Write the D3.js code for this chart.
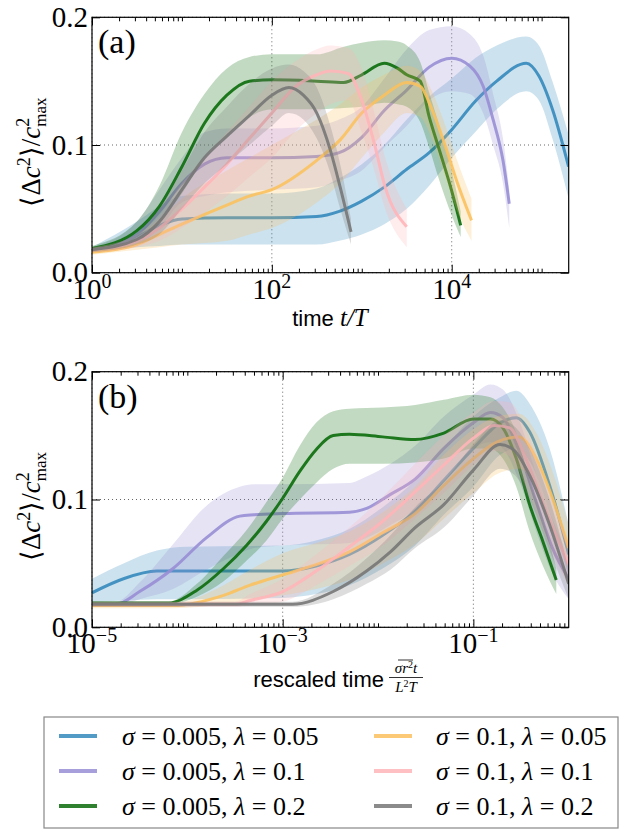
<!DOCTYPE html>
<html><head><meta charset="utf-8">
<script src="https://cdn.jsdelivr.net/npm/d3@7"></script>
<style>body{margin:0;background:#fff} svg{display:block}</style>
</head><body>
<svg id="chart" width="625" height="830"></svg>
<script>
// ---------- series metadata ----------
const sigmaVals = ["0.005","0.005","0.005","0.1","0.1","0.1"];
const lambdaVals = ["0.05","0.1","0.2","0.05","0.1","0.2"];
const colors = ["#348ABD","#988ED5","#0b6b0b","#FBC15E","#FFB5B8","#777777"];

// ---------- panel (a): time t/T ----------
const aT_blue  = [1,3.16,5.62,10,31.6,100,316,562,1000,1778,3162,5623,10000,18197,31623,67608,93325,131826,199526];
const aM_blue  = [0.018,0.028,0.037,0.042,0.043,0.043,0.044,0.048,0.056,0.067,0.081,0.094,0.112,0.134,0.150,0.164,0.154,0.128,0.083];
const aLo_blue = [0.016,0.020,0.021,0.022,0.022,0.022,0.022,0.025,0.030,0.038,0.050,0.068,0.090,0.110,0.128,0.142,0.135,0.105,0.058];
const aHi_blue = [0.020,0.040,0.052,0.060,0.062,0.062,0.066,0.074,0.085,0.100,0.120,0.138,0.152,0.168,0.178,0.185,0.178,0.150,0.108];

const aT_purple  = [1,3.16,5.62,10,17.8,31.6,100,316,562,1000,1778,3162,5623,10000,15849,22387,28840,37154,43652];
const aM_purple  = [0.018,0.030,0.048,0.070,0.085,0.090,0.090,0.091,0.094,0.106,0.127,0.143,0.161,0.168,0.162,0.146,0.120,0.088,0.054];
const aLo_purple = [0.016,0.022,0.035,0.055,0.060,0.063,0.065,0.067,0.072,0.080,0.098,0.115,0.135,0.142,0.140,0.125,0.100,0.070,0.035];
const aHi_purple = [0.020,0.040,0.065,0.090,0.110,0.113,0.113,0.115,0.120,0.130,0.152,0.175,0.190,0.193,0.187,0.170,0.140,0.105,0.065];

const aT_green  = [1,3.16,5.62,10,17.8,31.6,56.2,100,316,631,1000,1778,2512,3162,4467,5623,7079,10000,12589];
const aM_green  = [0.019,0.033,0.052,0.083,0.117,0.139,0.150,0.151,0.150,0.149,0.155,0.164,0.160,0.155,0.150,0.122,0.099,0.064,0.037];
const aLo_green = [0.017,0.028,0.040,0.062,0.090,0.108,0.122,0.128,0.128,0.129,0.130,0.133,0.132,0.130,0.118,0.098,0.075,0.045,0.028];
const aHi_green = [0.021,0.040,0.068,0.110,0.140,0.160,0.169,0.171,0.171,0.177,0.180,0.182,0.181,0.178,0.165,0.141,0.118,0.080,0.048];

const aT_yellow  = [1,3.16,5.62,10,31.6,56.2,100,316,575,1000,1778,3162,4467,6026,8511,11220,16596];
const aM_yellow  = [0.016,0.022,0.030,0.038,0.053,0.060,0.065,0.088,0.104,0.125,0.139,0.149,0.146,0.128,0.099,0.073,0.041];
const aLo_yellow = [0.014,0.018,0.020,0.022,0.025,0.030,0.035,0.055,0.070,0.090,0.110,0.125,0.122,0.105,0.075,0.050,0.025];
const aHi_yellow = [0.018,0.028,0.042,0.058,0.080,0.090,0.100,0.120,0.132,0.145,0.155,0.162,0.158,0.142,0.115,0.090,0.058];

const aT_pink  = [1,3.16,5.62,10,17.8,31.6,56.2,100,178,316,447,708,1000,1380,1820,3162];
const aM_pink  = [0.018,0.025,0.035,0.050,0.067,0.085,0.105,0.125,0.145,0.155,0.158,0.156,0.135,0.101,0.067,0.036];
const aLo_pink = [0.016,0.020,0.025,0.035,0.047,0.060,0.075,0.090,0.110,0.125,0.132,0.135,0.110,0.080,0.050,0.020];
const aHi_pink = [0.020,0.030,0.045,0.070,0.090,0.110,0.130,0.150,0.165,0.175,0.178,0.176,0.160,0.125,0.090,0.050];

const aT_gray  = [1,3.16,5.62,10,17.8,31.6,56.2,100,155,224,316,447,575,759];
const aM_gray  = [0.018,0.026,0.040,0.065,0.090,0.107,0.123,0.139,0.145,0.139,0.125,0.096,0.067,0.032];
const aLo_gray = [0.016,0.022,0.030,0.050,0.070,0.085,0.100,0.115,0.125,0.120,0.105,0.078,0.050,0.022];
const aHi_gray = [0.020,0.030,0.050,0.080,0.110,0.130,0.148,0.160,0.163,0.158,0.145,0.115,0.085,0.042];

// ---------- panel (b): rescaled time ----------
const bX_blue  = [1e-5,2.14e-5,4.79e-5,1e-4,1e-3,2.24e-3,5.01e-3,0.0112,0.0245,0.049,0.1,0.191,0.282,0.389,0.631,1];
const bM_blue  = [0.027,0.038,0.044,0.044,0.044,0.048,0.057,0.072,0.091,0.115,0.140,0.160,0.164,0.153,0.111,0.057];
const bLo_blue = [0.020,0.021,0.022,0.022,0.023,0.026,0.033,0.046,0.064,0.088,0.110,0.135,0.140,0.130,0.090,0.040];
const bHi_blue = [0.038,0.050,0.060,0.063,0.064,0.068,0.077,0.094,0.115,0.140,0.165,0.180,0.185,0.175,0.140,0.080];

const bX_purple  = [1e-5,1.78e-5,3.16e-5,7.08e-5,1.58e-4,3.55e-4,5.01e-4,1e-3,5.01e-3,7.59e-3,0.0135,0.0245,0.049,0.1,0.151,0.204,0.302,0.457,0.676,1];
const bM_purple  = [0.018,0.018,0.028,0.046,0.070,0.087,0.088,0.089,0.090,0.093,0.104,0.116,0.140,0.160,0.168,0.164,0.138,0.098,0.062,0.038];
const bLo_purple = [0.016,0.016,0.022,0.030,0.045,0.058,0.062,0.064,0.066,0.070,0.080,0.092,0.115,0.140,0.145,0.140,0.115,0.075,0.042,0.022];
const bHi_purple = [0.020,0.020,0.035,0.065,0.095,0.110,0.112,0.112,0.113,0.118,0.128,0.142,0.165,0.182,0.190,0.186,0.162,0.120,0.085,0.055];

const bX_green  = [1e-5,6.31e-5,1.26e-4,2.4e-4,4.17e-4,6.76e-4,1e-3,1.51e-3,2.24e-3,3.39e-3,5.01e-3,0.0112,0.0245,0.049,0.1,0.151,0.204,0.282,0.389,0.537,0.741];
const bM_green  = [0.019,0.019,0.029,0.046,0.064,0.083,0.101,0.122,0.139,0.150,0.151,0.149,0.147,0.152,0.163,0.163,0.156,0.132,0.096,0.067,0.037];
const bLo_green = [0.018,0.018,0.024,0.036,0.052,0.068,0.085,0.100,0.113,0.124,0.128,0.128,0.129,0.132,0.140,0.140,0.132,0.110,0.075,0.048,0.026];
const bHi_green = [0.020,0.020,0.034,0.056,0.076,0.098,0.117,0.142,0.160,0.169,0.171,0.172,0.174,0.178,0.182,0.180,0.172,0.152,0.115,0.085,0.046];

const bX_yellow  = [1e-5,7.08e-5,2.4e-4,4.57e-4,1e-3,2.24e-3,5.01e-3,0.0112,0.0245,0.049,0.1,0.178,0.302,0.457,0.676,1];
const bM_yellow  = [0.017,0.017,0.025,0.033,0.041,0.049,0.059,0.074,0.089,0.111,0.132,0.145,0.149,0.132,0.101,0.062];
const bLo_yellow = [0.015,0.015,0.018,0.021,0.025,0.030,0.037,0.050,0.065,0.085,0.105,0.120,0.124,0.110,0.080,0.045];
const bHi_yellow = [0.019,0.019,0.033,0.045,0.058,0.066,0.075,0.090,0.110,0.135,0.155,0.165,0.167,0.152,0.122,0.080];

const bX_pink  = [1e-5,3.16e-4,4.57e-4,1e-3,2.24e-3,5.01e-3,0.0112,0.0245,0.049,0.1,0.166,0.24,0.355,0.575,1];
const bM_pink  = [0.018,0.018,0.021,0.028,0.044,0.063,0.083,0.106,0.127,0.148,0.158,0.156,0.132,0.091,0.049];
const bLo_pink = [0.016,0.016,0.017,0.020,0.033,0.048,0.064,0.085,0.105,0.127,0.138,0.134,0.110,0.070,0.032];
const bHi_pink = [0.020,0.020,0.026,0.038,0.057,0.078,0.102,0.128,0.150,0.168,0.177,0.176,0.155,0.112,0.065];

const bX_gray  = [1e-5,1.26e-3,3.39e-3,7.59e-3,0.0135,0.0245,0.049,0.1,0.191,0.263,0.389,0.631,1];
const bM_gray  = [0.018,0.018,0.028,0.044,0.059,0.078,0.096,0.123,0.143,0.139,0.119,0.080,0.034];
const bLo_gray = [0.016,0.016,0.022,0.034,0.045,0.062,0.078,0.103,0.124,0.120,0.100,0.060,0.022];
const bHi_gray = [0.020,0.020,0.034,0.054,0.072,0.094,0.114,0.143,0.162,0.158,0.140,0.100,0.046];

// ---------- ticks ----------
const yTicks = [0.0, 0.1, 0.2];
const aMajor = [1, 100, 10000];
const aMajorExp = ["0","2","4"];
const bMajor = [1e-5, 1e-3, 1e-1];
const bMajorExp = ["\u22125","\u22123","\u22121"];

// ---------- assemble ----------
const panelA = [
  [aT_blue,aM_blue,aLo_blue,aHi_blue],[aT_purple,aM_purple,aLo_purple,aHi_purple],
  [aT_green,aM_green,aLo_green,aHi_green],[aT_yellow,aM_yellow,aLo_yellow,aHi_yellow],
  [aT_pink,aM_pink,aLo_pink,aHi_pink],[aT_gray,aM_gray,aLo_gray,aHi_gray]];
const panelB = [
  [bX_blue,bM_blue,bLo_blue,bHi_blue],[bX_purple,bM_purple,bLo_purple,bHi_purple],
  [bX_green,bM_green,bLo_green,bHi_green],[bX_yellow,bM_yellow,bLo_yellow,bHi_yellow],
  [bX_pink,bM_pink,bLo_pink,bHi_pink],[bX_gray,bM_gray,bLo_gray,bHi_gray]];

const svg = d3.select("#chart");
const SERIF = "'Liberation Serif','Times New Roman',serif";
const SANS = "'Liberation Sans',Arial,sans-serif";
const L = 92, R = 568.7;

function minorTicks(lo, hi) {
  const out = [];
  for (let e = Math.floor(Math.log10(lo)); e <= Math.ceil(Math.log10(hi)); e++) {
    for (let k = 1; k <= 9; k++) {
      const v = k * Math.pow(10, e);
      if (v > lo * 1.0001 && v < hi * 0.9999) out.push(v);
    }
  }
  return out;
}

function drawPanel(id, top, bottom, domain, data, majors, exps, tag) {
  const x = d3.scaleLog().domain(domain).range([L, R]);
  const y = d3.scaleLinear().domain([0, 0.2]).range([bottom, top]);
  const g = svg.append("g");
  g.append("clipPath").attr("id", "clip" + id).append("rect")
    .attr("x", L).attr("y", top).attr("width", R - L).attr("height", bottom - top);

  // grid
  const grid = g.append("g").attr("stroke", "#666").attr("stroke-width", 1).attr("stroke-dasharray", "1,3");
  majors.forEach(v => grid.append("line").attr("x1", x(v)).attr("x2", x(v)).attr("y1", top).attr("y2", bottom));
  yTicks.forEach(v => grid.append("line").attr("x1", L).attr("x2", R).attr("y1", y(v)).attr("y2", y(v)));

  const plot = g.append("g").attr("clip-path", `url(#clip${id})`);
  data.forEach((s, i) => {
    const pts = s[0].map((xv, j) => ({x: xv, m: s[1][j], lo: s[2][j], hi: s[3][j]}));
    const area = d3.area().x(d => x(d.x)).y0(d => y(d.lo)).y1(d => y(d.hi)).curve(d3.curveMonotoneX);
    const line = d3.line().x(d => x(d.x)).y(d => y(d.m)).curve(d3.curveMonotoneX);
    plot.append("path").attr("d", area(pts)).attr("fill", colors[i]).attr("fill-opacity", 0.25).attr("stroke", "none");
    plot.append("path").attr("d", line(pts)).attr("fill", "none").attr("stroke", colors[i])
      .attr("stroke-width", 3).attr("stroke-opacity", 0.9).attr("stroke-linejoin", "round");
  });

  // axes with inward ticks
  const mins = minorTicks(domain[0], domain[1]).filter(v => !majors.some(m => Math.abs(m - v) / v < 1e-6));
  const ax = (gen, t) => g.append("g").attr("transform", t).call(gen).call(s => s.select(".domain").remove());
  ax(d3.axisBottom(x).tickValues(majors).tickSizeInner(-8).tickSizeOuter(0).tickFormat(""), `translate(0,${bottom})`);
  ax(d3.axisBottom(x).tickValues(mins).tickSizeInner(-4).tickSizeOuter(0).tickFormat(""), `translate(0,${bottom})`);
  ax(d3.axisTop(x).tickValues(majors).tickSizeInner(-8).tickSizeOuter(0).tickFormat(""), `translate(0,${top})`);
  ax(d3.axisTop(x).tickValues(mins).tickSizeInner(-4).tickSizeOuter(0).tickFormat(""), `translate(0,${top})`);
  const yl = ax(d3.axisLeft(y).tickValues(yTicks).tickSizeInner(-8).tickSizeOuter(0).tickPadding(4).tickFormat(d3.format(".1f")), `translate(${L},0)`);
  yl.attr("font-family", null).attr("font-size", null);
  yl.selectAll("text").style("font-family", SERIF).style("font-size", "29px").attr("fill", "#000");
  ax(d3.axisRight(y).tickValues(yTicks).tickSizeInner(-8).tickSizeOuter(0).tickFormat(""), `translate(${R},0)`);
  g.selectAll(".tick line").attr("stroke", "#000");

  // frame
  g.append("rect").attr("x", L).attr("y", top).attr("width", R - L).attr("height", bottom - top)
    .attr("fill", "none").attr("stroke", "#000").attr("stroke-width", 1.2);

  // x tick labels 10^e
  majors.forEach((v, i) => {
    const t = g.append("text").attr("x", x(v)).attr("y", bottom + 26).attr("text-anchor", "middle")
      .style("font-family", SERIF).style("font-size", "29px");
    t.append("tspan").text("10");
    t.append("tspan").attr("dy", -11).style("font-size", "20px").text(exps[i]);
  });

  // panel tag
  g.append("text").attr("x", L + 6).attr("y", top + 36).style("font-family", SERIF).style("font-size", "34px").text(tag);

  // y label
  const cy = (top + bottom) / 2 + 7;
  const t = g.append("text").attr("transform", `translate(40,${cy}) rotate(-90)`).attr("text-anchor", "middle")
    .style("font-family", SERIF).style("font-size", "27px");
  t.append("tspan").text("\u27E8\u0394");
  t.append("tspan").style("font-style", "italic").text("c");
  t.append("tspan").attr("dy", -10).style("font-size", "18px").text("2");
  t.append("tspan").attr("dy", 10).text("\u27E9/");
  t.append("tspan").style("font-style", "italic").text("c");
  t.append("tspan").attr("dy", -11).style("font-size", "18px").text("2");
  t.append("tspan").attr("dx", -9).attr("dy", 17).style("font-size", "17px").text("max");
  return {x, y};
}

drawPanel("a", 17.3, 272.7, [1, 2e5], panelA, aMajor, aMajorExp, "(a)");
drawPanel("b", 371.7, 627.3, [1e-5, 1], panelB, bMajor, bMajorExp, "(b)");

// x labels
const xa = svg.append("text").attr("x", 330).attr("y", 326).attr("text-anchor", "middle").style("font-size", "22px");
xa.append("tspan").style("font-family", SANS).text("time ");
xa.append("tspan").style("font-family", SERIF).style("font-style", "italic").style("font-size", "25px").text("t/T");

svg.append("text").attr("x", 384).attr("y", 687).attr("text-anchor", "end")
  .style("font-family", SANS).style("font-size", "22px").text("rescaled time");
const fx = 406;
const num = svg.append("text").attr("x", fx).attr("y", 673).attr("text-anchor", "middle")
  .style("font-family", SERIF).style("font-style", "italic").style("font-size", "15px");
num.append("tspan").text("\u03C3r");
num.append("tspan").attr("dy", -5).style("font-size", "10px").style("font-style", "normal").text("2");
num.append("tspan").attr("dy", 5).text("t");
svg.append("line").attr("x1", 398).attr("x2", 413).attr("y1", 660).attr("y2", 660).attr("stroke", "#000").attr("stroke-width", 0.8);
svg.append("line").attr("x1", 389).attr("x2", 423).attr("y1", 677.5).attr("y2", 677.5).attr("stroke", "#000").attr("stroke-width", 0.8);
const den = svg.append("text").attr("x", fx).attr("y", 692).attr("text-anchor", "middle")
  .style("font-family", SERIF).style("font-style", "italic").style("font-size", "15px");
den.append("tspan").text("L");
den.append("tspan").attr("dy", -5).style("font-size", "10px").style("font-style", "normal").text("2");
den.append("tspan").attr("dy", 5).text("T");

// legend
const lg = svg.append("g");
lg.append("rect").attr("x", 44).attr("y", 717).attr("width", 574).attr("height", 111)
  .attr("fill", "#fff").attr("stroke", "#888").attr("stroke-width", 1.2);
const rowY = [736, 771, 806];
colors.forEach((c, i) => {
  const col = i < 3 ? 0 : 1, row = i % 3;
  const lx = col ? 374 : 59, tx = col ? 436 : 122;
  lg.append("line").attr("x1", lx).attr("x2", lx + 38).attr("y1", rowY[row]).attr("y2", rowY[row])
    .attr("stroke", c).attr("stroke-width", 4).attr("stroke-opacity", 0.85);
  const t = lg.append("text").attr("x", tx).attr("y", rowY[row] + 9).style("font-family", SERIF)
    .style("font-size", "26px").style("white-space", "pre");
  t.append("tspan").style("font-style", "italic").text("\u03C3");
  t.append("tspan").text(" = " + sigmaVals[i] + ", ");
  t.append("tspan").style("font-style", "italic").text("\u03BB");
  t.append("tspan").text(" = " + lambdaVals[i]);
});
</script></body></html>
